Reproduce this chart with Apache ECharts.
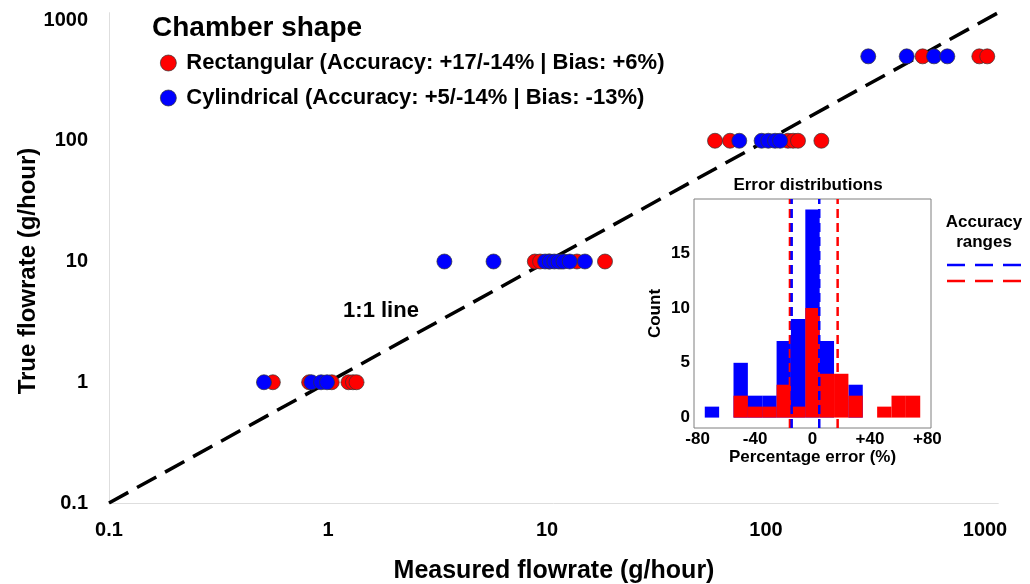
<!DOCTYPE html>
<html>
<head>
<meta charset="utf-8">
<script src="https://cdn.jsdelivr.net/npm/echarts@6/dist/echarts.min.js"></script>
<style>
html,body{margin:0;padding:0;background:#fff;}
#chart{width:1030px;height:584px;}
</style>
</head>
<body>
<div id="chart"></div>
<script>
// ---------- DATA ----------
// Main scatter: measured flowrate (x) for each true flowrate level (y)
const trueLevels = [1, 10, 100, 500];
const rectMeasured = [
  [0.56, 0.82, 1.04, 1.24, 1.30, 1.35],
  [8.8, 9.3, 10.2, 11.6, 13.7, 18.4],
  [58.5, 68.5, 126, 133, 140, 179],
  [519, 942, 1024]
];
const cylMeasured = [
  [0.51, 0.84, 0.93, 0.99],
  [3.4, 5.7, 9.8, 10.3, 10.8, 11.3, 11.9, 12.7, 14.9],
  [75.5, 95.5, 102.5, 110, 116],
  [293, 439, 585, 673]
];
const seriesNames = [
  'Rectangular (Accuracy: +17/-14% | Bias: +6%)',
  'Cylindrical (Accuracy: +5/-14% | Bias: -13%)'
];
const oneToOne = [0.1, 1150];
const mainTickLabels = ['0.1', '1', '10', '100', '1000'];

// Inset histogram (binwidth 10)
const binStarts = [-75, -65, -55, -45, -35, -25, -15, -5, 5, 15, 25, 35, 45, 55, 65];
const binWidth = 10;
const cylCounts = [1, 0, 5, 2, 2, 7, 9, 19, 7, 0, 3, 0, 0, 0, 0];
const rectCounts = [0, 0, 2, 1, 1, 3, 1, 10, 4, 4, 2, 0, 1, 2, 2];
const rectAccuracy = [-15.7, 17.5];
const cylAccuracy = [-14.5, 4.7];
const insetXTicks = [-80, -40, 0, 40, 80];
const insetXMinor = [-60, -20, 20, 60];
const insetYTicks = [0, 5, 10, 15];
const insetYMinor = [2.5, 7.5, 12.5, 17.5];

// ---------- CHART ----------
const RED = '#ff0000', BLUE = '#0000ff';
const FONT = '"Liberation Sans", Arial, sans-serif';
const chart = echarts.init(document.getElementById('chart'), null, {renderer: 'canvas'});

function pts(arrs) {
  const out = [];
  arrs.forEach((row, i) => row.forEach(v => out.push([v, trueLevels[i]])));
  return out;
}
function logLabel(v) {
  const l = Math.round(Math.log10(v));
  if (Math.abs(Math.log10(v) - l) > 1e-6) return '';
  return mainTickLabels[l + 1] || '';
}
function signed(v) { return v > 0 ? '+' + v : String(v); }

const histMin = -82.5, histMax = 82.5, cntMin = -0.95, cntMax = 19.95;
const mainMin = 0.1, mainMax = 1150;

function histItem(starts, counts) {
  return starts.map((s, i) => [s, s + binWidth, counts[i]]);
}
function histRender(color) {
  return function (params, api) {
    const c = api.value(2);
    if (!c) return null;
    const p0 = api.coord([api.value(0), c]);
    const p1 = api.coord([api.value(1), 0]);
    return {type: 'rect', shape: {x: p0[0], y: p0[1], width: p1[0] - p0[0], height: p1[1] - p0[1]},
            style: {fill: color}};
  };
}
function vline(v, color, name) {
  return {type: 'line', name: name, xAxisIndex: 1, yAxisIndex: 1, data: [[v, cntMin], [v, cntMax]],
          symbol: 'none', silent: true, z: 5,
          lineStyle: {color: color, width: 2.5, type: [9, 5]}};
}

// main grid: 0.1 at x=109 / y=503, ~219 px per decade in x, ~120.75 in y
const decades = Math.log10(mainMax / mainMin);
const gridW = 219 * decades, gridH = 120.75 * decades;

const option = {
  backgroundColor: '#ffffff',
  animation: false,
  textStyle: {fontFamily: FONT},
  grid: [
    {left: 109, width: gridW, top: 503 - gridH, height: gridH},
    {left: 694, top: 199, width: 237, height: 229, show: true, backgroundColor: '#fff', borderColor: '#7f7f7f', borderWidth: 1, z: 3}
  ],
  xAxis: [
    {type: 'log', logBase: 10, gridIndex: 0, min: mainMin, max: mainMax,
     axisLine: {show: true, lineStyle: {color: '#dedede', width: 1}},
     axisTick: {show: false}, splitLine: {show: false},
     axisLabel: {formatter: logLabel, showMaxLabel: false, fontSize: 20, fontWeight: 'bold', color: '#000', margin: 17}},
    {type: 'value', gridIndex: 1, min: histMin, max: histMax,
     name: 'Percentage error (%)', nameLocation: 'middle', nameGap: 21,
     nameTextStyle: {fontSize: 17, fontWeight: 'bold', color: '#000'},
     axisLine: {show: false},
     axisTick: {show: true, customValues: insetXTicks, length: 3, lineStyle: {color: '#333'}},
     axisLabel: {customValues: insetXTicks, formatter: signed, fontSize: 17, fontWeight: 'bold', color: '#000', margin: 3},
     splitLine: {show: true, lineStyle: {color: '#ebebeb', width: 1}}},
    {type: 'value', gridIndex: 1, min: histMin, max: histMax, show: true,
     axisLine: {show: false}, axisLabel: {show: false},
     axisTick: {show: false, customValues: insetXMinor},
     splitLine: {show: true, lineStyle: {color: '#f2f2f2', width: 1}}}
  ],
  yAxis: [
    {type: 'log', logBase: 10, gridIndex: 0, min: mainMin, max: mainMax,
     axisLine: {show: true, lineStyle: {color: '#dedede', width: 1}},
     axisTick: {show: false}, splitLine: {show: false},
     axisLabel: {formatter: logLabel, showMaxLabel: false, fontSize: 20, fontWeight: 'bold', color: '#000', margin: 21}},
    {type: 'value', gridIndex: 1, min: cntMin, max: cntMax,
     name: 'Count', nameLocation: 'middle', nameGap: 30, nameRotate: 90,
     nameTextStyle: {fontSize: 17, fontWeight: 'bold', color: '#000'},
     axisLine: {show: false},
     axisTick: {show: true, customValues: insetYTicks, length: 3, lineStyle: {color: '#333'}},
     axisLabel: {customValues: insetYTicks, fontSize: 17, fontWeight: 'bold', color: '#000', margin: 4},
     splitLine: {show: true, lineStyle: {color: '#ebebeb', width: 1}}},
    {type: 'value', gridIndex: 1, min: cntMin, max: cntMax,
     axisLine: {show: false}, axisLabel: {show: false},
     axisTick: {show: false, customValues: insetYMinor},
     splitLine: {show: true, lineStyle: {color: '#f2f2f2', width: 1}}}
  ],
  legend: {
    data: seriesNames, orient: 'vertical', left: 160, top: 52, itemGap: 13, padding: 0,
    icon: 'circle', itemWidth: 16, itemHeight: 16,
    textStyle: {fontSize: 22, lineHeight: 22, fontWeight: 'bold', color: '#000', fontFamily: FONT, padding: [0, 0, 0, 5]},
    itemStyle: {borderColor: '#333', borderWidth: 0.7},
    selectedMode: false
  },
  graphic: [
    {type: 'text', x: 152, y: 28, style: {text: 'Chamber shape', font: 'bold 28px ' + FONT, fill: '#000', verticalAlign: 'middle'}},
    {type: 'text', x: 381, y: 311, style: {text: '1:1 line', font: 'bold 22px ' + FONT, fill: '#000', align: 'center', verticalAlign: 'middle'}},
    {type: 'text', x: 554, y: 571, style: {text: 'Measured flowrate (g/hour)', font: 'bold 25px ' + FONT, fill: '#000', align: 'center', verticalAlign: 'middle'}},
    {type: 'text', x: 28, y: 271, rotation: Math.PI / 2, style: {text: 'True flowrate (g/hour)', font: 'bold 24px ' + FONT, fill: '#000', align: 'center', verticalAlign: 'middle'}},
    {type: 'text', x: 808, y: 185, style: {text: 'Error distributions', font: 'bold 17px ' + FONT, fill: '#000', align: 'center', verticalAlign: 'middle'}},
    {type: 'text', x: 984, y: 222, style: {text: 'Accuracy', font: 'bold 17px ' + FONT, fill: '#000', align: 'center', verticalAlign: 'middle'}},
    {type: 'text', x: 984, y: 242, style: {text: 'ranges', font: 'bold 17px ' + FONT, fill: '#000', align: 'center', verticalAlign: 'middle'}},
    {type: 'line', shape: {x1: 947, y1: 265, x2: 1022, y2: 265}, style: {stroke: BLUE, lineWidth: 2.5, lineDash: [18, 10]}},
    {type: 'line', shape: {x1: 947, y1: 281, x2: 1022, y2: 281}, style: {stroke: RED, lineWidth: 2.5, lineDash: [18, 10]}}
  ],
  series: [
    {type: 'line', name: '1:1', xAxisIndex: 0, yAxisIndex: 0, data: oneToOne.map(v => [v, v]),
     symbol: 'none', silent: true, z: 1,
     lineStyle: {color: '#000', width: 3.5, type: [22, 10]}},
    {type: 'scatter', name: seriesNames[0], xAxisIndex: 0, yAxisIndex: 0, data: pts(rectMeasured),
     symbol: 'circle', symbolSize: 15, clip: false, z: 2,
     itemStyle: {color: RED, borderColor: '#333', borderWidth: 0.7, opacity: 1}},
    {type: 'scatter', name: seriesNames[1], xAxisIndex: 0, yAxisIndex: 0, data: pts(cylMeasured),
     symbol: 'circle', symbolSize: 15, clip: false, z: 2,
     itemStyle: {color: BLUE, borderColor: '#333', borderWidth: 0.7, opacity: 1}},
    {type: 'custom', name: 'cylHist', xAxisIndex: 1, yAxisIndex: 1, data: histItem(binStarts, cylCounts),
     renderItem: histRender(BLUE), z: 4, silent: true, encode: {x: [0, 1], y: 2}},
    {type: 'custom', name: 'rectHist', xAxisIndex: 1, yAxisIndex: 1, data: histItem(binStarts, rectCounts),
     renderItem: histRender(RED), z: 4, silent: true, encode: {x: [0, 1], y: 2}},
    vline(rectAccuracy[0], RED, 'rA0'), vline(rectAccuracy[1], RED, 'rA1'),
    vline(cylAccuracy[0], BLUE, 'cA0'), vline(cylAccuracy[1], BLUE, 'cA1')
  ]
};
chart.setOption(option);
</script>
</body>
</html>
